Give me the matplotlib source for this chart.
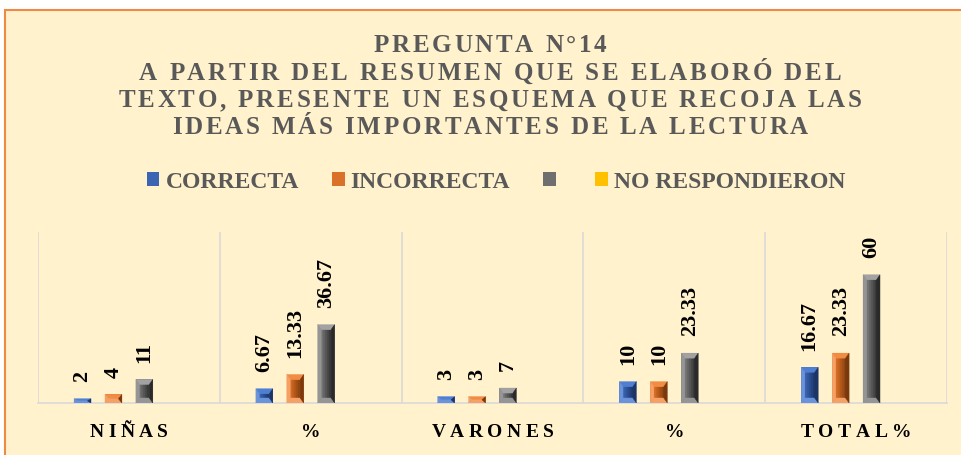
import numpy as np
import matplotlib
matplotlib.use("Agg")
import matplotlib.pyplot as plt
from matplotlib.patches import Rectangle, Polygon, Patch
from matplotlib.font_manager import FontProperties, findfont
from matplotlib.ft2font import FT2Font
from matplotlib.colors import to_rgb

# data
categories = ["NIÑAS", "%", "VARONES", "%", "TOTAL%"]
correcta = [2, 6.67, 3, 10, 16.67]
incorrecta = [4, 13.33, 3, 10, 23.33]
gris = [11, 36.67, 7, 23.33, 60]
no_respondieron = [0, 0, 0, 0, 0]
series_names = ["CORRECTA", "INCORRECTA", "", "NO RESPONDIERON"]

title_lines = [
    "PREGUNTA N°14",
    "A PARTIR DEL RESUMEN QUE SE ELABORÓ DEL",
    "TEXTO, PRESENTE UN ESQUEMA QUE RECOJA LAS",
    "IDEAS MÁS IMPORTANTES DE LA LECTURA",
]

# colours: base, top facet, left strip, right strip, inner left, inner right
shades = [
    ["#4472C4", "#4f7fd0", "#6b93da", "#1d3566", "#3863b0", "#1f3b72"],
    ["#ED7D31", "#f08c44", "#f4a066", "#7a380c", "#d56b22", "#8f4613"],
    ["#7f7f7f", "#a2a2a2", "#959595", "#2a2a2a", "#747474", "#3a3a3a"],
    ["#FFC000", "#FFC000", "#FFC000", "#FFC000", "#FFC000", "#FFC000"],
]
legend_colors = ["#3b65b2", "#d9712a", "#6f6f6f", "#FFC000"]

W, H = 961, 455
SERIF = "Liberation Serif"

fig = plt.figure(figsize=(W / 100, H / 100), dpi=100)
fig.patch.set_facecolor("white")
fig.patches.append(Rectangle((5 / W, -0.1), 1.0, 1 - 10 / H + 0.1,
                             transform=fig.transFigure, facecolor="#FFF2CC",
                             edgecolor="#EE8A45", lw=1.5, zorder=-10))

ax = fig.add_axes([38 / W, 1 - 403 / H, 909 / W, 171 / H])
ax.set_facecolor("none")
ax.set_xlim(-0.5, 4.5)
ax.set_ylim(0, 80)
for side in ["top", "left", "right"]:
    ax.spines[side].set_visible(False)
ax.spines["bottom"].set_color("#D9D9D9")
ax.spines["bottom"].set_linewidth(1.2)
ax.set_xticks(np.arange(-0.5, 5, 1), minor=True)
ax.set_xticks([])
ax.set_yticks([])
ax.grid(which="minor", axis="x", color="#D9D9D9", lw=1.2)
ax.tick_params(which="both", length=0)

dx = 5.0 / ax.bbox.width   # data units per pixel
dy = 80.0 / ax.bbox.height


def bevel(bar, sh):
    x0 = bar.get_x()
    x1 = x0 + bar.get_width()
    y0, y1 = 0, bar.get_height()
    bx = 3.5 * dx
    by = min(5 * dy, (y1 - y0) / 2)
    # inner gradient
    n = 5
    cl, cr = np.array(to_rgb(sh[4])), np.array(to_rgb(sh[5]))
    xs = np.linspace(x0 + bx, x1 - bx, n + 1)
    for k in range(n):
        c = cl + (cr - cl) * k / (n - 1)
        ax.add_patch(Rectangle((xs[k], y0 + by), xs[k + 1] - xs[k], y1 - y0 - 2 * by,
                               facecolor=c, edgecolor=c, lw=0.3, zorder=3))
    facets = [
        ([(x0, y1), (x1, y1), (x1 - bx, y1 - by), (x0 + bx, y1 - by)], sh[1]),
        ([(x0, y0), (x1, y0), (x1 - bx, y0 + by), (x0 + bx, y0 + by)], sh[2]),
        ([(x0, y0), (x0 + bx, y0 + by), (x0 + bx, y1 - by), (x0, y1)], sh[2]),
        ([(x1, y0), (x1 - bx, y0 + by), (x1 - bx, y1 - by), (x1, y1)], sh[3]),
    ]
    for pts, c in facets:
        ax.add_patch(Polygon(pts, closed=True, facecolor=c, edgecolor=c, lw=0.3, zorder=3))


x = np.arange(len(categories))
step, width = 0.17, 0.093
all_series = [correcta, incorrecta, gris, no_respondieron]
for i, vals in enumerate(all_series):
    bars = ax.bar(x + (i - 1.5) * step, vals, width, color=shades[i][0], zorder=2)
    for bar, v in zip(bars, vals):
        if v <= 0:
            continue
        bevel(bar, shades[i])
        ax.annotate(f"{v:g}", (bar.get_x() + bar.get_width() / 2, v),
                    xytext=(0, 12), textcoords="offset points", rotation=90,
                    ha="center", va="bottom", fontsize=16, fontweight="bold",
                    family=SERIF, color="black")


def spaced_text(xc, y, s, spacing, size, color):
    """Draw s centred at pixel xc with baseline at pixel y (from top)."""
    fp = FontProperties(family=SERIF, weight="bold", size=size)
    ft = FT2Font(findfont(fp))
    ft.set_size(size, 100)
    adv = []
    for c in s:
        g = ft.load_char(ord(c))
        adv.append(g.linearHoriAdvance / 65536)
    total = sum(adv) + spacing * (len(s) - 1)
    xp = xc - total / 2
    for c, a in zip(s, adv):
        if c != " ":
            fig.text(xp / W, 1 - y / H, c, fontproperties=fp, color=color,
                     ha="left", va="baseline")
        xp += a + spacing


# title
for line, base in zip(title_lines, [52, 80, 107, 134]):
    spaced_text(490, base, line, 2.8, 18, "#595959")

# category labels
for xi, cat in zip(x, categories):
    cx = ax.transData.transform((xi, 0))[0]
    spaced_text(cx, 437, cat, 4.5, 14, "black")

# legend
handles = [Patch(facecolor=c, edgecolor="none") for c in legend_colors]
fig.legend(handles, series_names, loc="center", bbox_to_anchor=(496 / W, 1 - 182 / H),
           ncol=4, frameon=False,
           prop=FontProperties(family=SERIF, weight="bold", size=17),
           labelcolor="#595959", handlelength=0.55, handleheight=0.5,
           handletextpad=0.25, columnspacing=1.4, borderpad=0)

fig.savefig("out.png", dpi=100)
